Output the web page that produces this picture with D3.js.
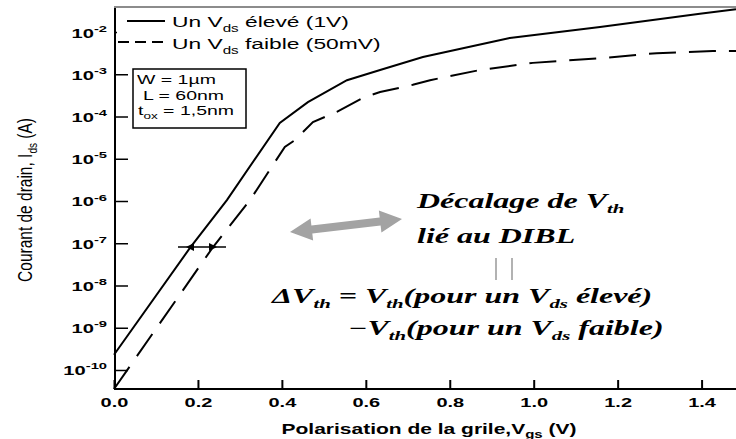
<!DOCTYPE html>
<html><head><meta charset="utf-8">
<script src="https://cdn.jsdelivr.net/npm/d3@7"></script>
<style>html,body{margin:0;padding:0;background:#fff;}svg{display:block;}</style>
</head><body>
<svg id="chart" width="736" height="439"></svg>
<script>
// ---- data ----
const vgsHigh = [0.000, 0.181, 0.269, 0.395, 0.462, 0.555, 0.634, 0.736, 0.943, 1.158, 1.396, 1.482];
const idsHigh = [2.29e-10, 7.76e-8, 1.05e-6, 7.08e-5, 2.19e-4, 7.24e-4, 1.26e-3, 2.57e-3, 7.24e-3, 1.32e-2, 2.69e-2, 3.47e-2];
const vgsLow = [0.000, 0.236, 0.324, 0.407, 0.431, 0.474, 0.531, 0.593, 0.634, 0.712, 0.753, 0.872, 0.998, 1.158, 1.293, 1.427, 1.482];
const idsLow = [3.55e-11, 8.13e-8, 1.05e-6, 1.91e-5, 2.75e-5, 7.41e-5, 1.29e-4, 2.75e-4, 3.80e-4, 5.62e-4, 7.24e-4, 1.26e-3, 1.86e-3, 2.40e-3, 3.16e-3, 3.55e-3, 3.55e-3];
const xTicks = [0.0, 0.2, 0.4, 0.6, 0.8, 1.0, 1.2, 1.4];
const yTickExps = [-2, -3, -4, -5, -6, -7, -8, -9, -10];
const legendLabels = [["Un V", {sub: "ds"}, " élevé (1V)"], ["Un V", {sub: "ds"}, " faible (50mV)"]];
const paramLines = [["W = 1µm"], ["L  = 60nm"], ["t", {sub: "ox"}, " = 1,5nm"]];
const xTitle = ["Polarisation de la grile,V", {sub: "gs"}, " (V)"];
const yTitle = ["Courant de drain, I", {sub: "ds"}, " (A)"];
const annotLines = [
  ["Décalage de V", {sub: "th"}],
  ["lié au DIBL"],
  ["ΔV", {sub: "th"}, " = V", {sub: "th"}, "(pour un V", {sub: "ds"}, " élevé)"],
  ["−V", {sub: "th"}, "(pour un V", {sub: "ds"}, " faible)"]
];

// ---- layout ----
const svg = d3.select("#chart");
const X0 = 114, X1 = 736, Y0 = 389, Y1 = 7;
const x = d3.scaleLinear().domain([0, 1.482]).range([X0, X1]);
const y = d3.scaleLog().domain([Math.pow(10, -10.45), Math.pow(10, -1.408)]).range([Y0, Y1]);

function richText(parent, px, py, parts, o) {
  let tr = `translate(${px},${py})`;
  if (o.rotate) tr += ` rotate(${o.rotate})`;
  tr += ` scale(${o.sx || 1},${o.sy || 1})`;
  const t = parent.append("text").attr("transform", tr)
    .attr("font-family", o.family).attr("font-size", o.size)
    .attr("font-weight", o.weight || "normal").attr("font-style", o.style || "normal")
    .attr("text-anchor", o.anchor || "start").attr("fill", o.fill || "#000");
  let cur = 0;
  parts.forEach(p => {
    let target = 0, txt = p, fs = null;
    if (typeof p !== "string") {
      if (p.sub !== undefined) { target = o.subDy; txt = p.sub; fs = o.subSize; }
      else { target = -o.supDy; txt = p.sup; fs = o.subSize; }
    }
    const ts = t.append("tspan").attr("dy", target - cur).text(txt);
    if (fs) ts.attr("font-size", fs);
    cur = target;
  });
  return t;
}

const SANS = "'Liberation Sans', Arial, sans-serif";
const SERIF = "'Liberation Serif', 'Times New Roman', serif";

// ---- curves ----
const line = d3.line().x(d => x(d[0])).y(d => y(d[1]));
const highData = vgsHigh.map((v, i) => [v, idsHigh[i]]);
const lowData = vgsLow.map((v, i) => [v, idsLow[i]]);
svg.append("path").datum(highData).attr("d", line).attr("fill", "none")
  .attr("stroke", "#000").attr("stroke-width", 2);
svg.append("path").datum(lowData).attr("d", line).attr("fill", "none")
  .attr("stroke", "#000").attr("stroke-width", 2).attr("stroke-dasharray", "27,13");

// ---- axes ----
const xAxis = d3.axisBottom(x).tickValues(xTicks).tickSize(-9).tickFormat(d3.format(".1f"));
const gx = svg.append("g").attr("transform", `translate(0,${Y0})`).call(xAxis);
gx.select(".domain").attr("stroke", "#000").attr("stroke-width", 2).attr("d", `M${X0},0H${X1}`);
gx.selectAll(".tick line").attr("stroke", "#000").attr("stroke-width", 2);
gx.selectAll(".tick text").attr("y", 18).attr("dy", 0)
  .attr("font-family", SANS).attr("font-size", 12.5).attr("font-weight", "bold").attr("fill", "#000")
  .attr("transform", "scale(1.6,1)");

const yAxis = d3.axisLeft(y).tickValues(yTickExps.map(e => Math.pow(10, e))).tickSize(-13).tickFormat("");
const gy = svg.append("g").attr("transform", `translate(${X0 + 1},0)`).call(yAxis);
gy.select(".domain").attr("stroke", "#000").attr("stroke-width", 2).attr("d", `M0,${Y1}V${Y0}`);
gy.selectAll(".tick line").attr("stroke", "#000").attr("stroke-width", 1.5);
gy.selectAll(".tick").each(function (d, i) {
  const e = yTickExps[i];
  richText(d3.select(this), -8, 5, ["10", {sup: String(e)}],
    {family: SANS, size: 13, weight: "bold", anchor: "end", sx: 1.55, subSize: 9.5, supDy: 6});
});

// top border (gray)
svg.append("line").attr("x1", X0).attr("x2", X1).attr("y1", Y1).attr("y2", Y1)
  .attr("stroke", "#8c8c8c").attr("stroke-width", 2);

// ---- legend ----
svg.append("rect").attr("x", 117).attr("y", 9).attr("width", 268).attr("height", 43).attr("fill", "#fff");
svg.append("line").attr("x1", 127).attr("x2", 165).attr("y1", 21).attr("y2", 21)
  .attr("stroke", "#000").attr("stroke-width", 2);
svg.append("line").attr("x1", 118).attr("x2", 165).attr("y1", 42).attr("y2", 42)
  .attr("stroke", "#000").attr("stroke-width", 2).attr("stroke-dasharray", "11,6");
legendLabels.forEach((parts, i) => {
  richText(svg, 172, 27 + i * 22, parts,
    {family: SANS, size: 15, sx: 1.52, subSize: 10, subDy: 5});
});

// ---- parameter box ----
svg.append("rect").attr("x", 133).attr("y", 69).attr("width", 113).attr("height", 59)
  .attr("fill", "#fff").attr("stroke", "#000").attr("stroke-width", 1.5);
const paramX = [137, 143, 138], paramY = [83.5, 100, 115];
paramLines.forEach((parts, i) => {
  richText(svg, paramX[i], paramY[i], parts,
    {family: SANS, size: 13, sx: 1.5, subSize: 9, subDy: 4});
});

// ---- axis titles ----
richText(svg, 429, 434, xTitle, {family: SANS, size: 14, weight: "bold", anchor: "middle", sx: 1.5, subSize: 10, subDy: 4});
richText(svg, 32, 200, yTitle, {family: SANS, size: 15.5, anchor: "middle", rotate: -90, sy: 1.3, subSize: 10, subDy: 4});

// ---- annotations ----
const annX = [417, 417, 272, 348], annY = [208, 243, 303, 335];
annotLines.forEach((parts, i) => {
  richText(svg, annX[i], annY[i], parts,
    {family: SERIF, size: 20, weight: "bold", style: "italic", sx: 1.6, subSize: 13, subDy: 5});
});
// "||"
[496, 512].forEach(px => svg.append("line").attr("x1", px).attr("x2", px).attr("y1", 258).attr("y2", 280)
  .attr("stroke", "#999").attr("stroke-width", 1.5));

// gray double arrow
(function () {
  const ax = 290, ay = 232, bx = 402, by = 219;
  const L = Math.hypot(bx - ax, by - ay), ang = Math.atan2(by - ay, bx - ax) * 180 / Math.PI;
  const hl = 22, hw = 11, sw = 4;
  const p = `M0,0 L${hl},${-hw} L${hl},${-sw} L${L - hl},${-sw} L${L - hl},${-hw} L${L},0 L${L - hl},${hw} L${L - hl},${sw} L${hl},${sw} L${hl},${hw} Z`;
  svg.append("path").attr("d", p).attr("fill", "#a3a3a3")
    .attr("transform", `translate(${ax},${ay}) rotate(${ang})`);
})();

// small dimension arrow at 1e-7
(function () {
  const yy = 247;
  svg.append("line").attr("x1", 178).attr("x2", 226).attr("y1", yy).attr("y2", yy)
    .attr("stroke", "#000").attr("stroke-width", 1.5);
  svg.append("path").attr("d", `M186,${yy} L194,${yy - 4} L194,${yy + 4} Z`).attr("fill", "#000");
  svg.append("path").attr("d", `M217,${yy} L209,${yy - 4} L209,${yy + 4} Z`).attr("fill", "#000");
})();
</script>
</body></html>
